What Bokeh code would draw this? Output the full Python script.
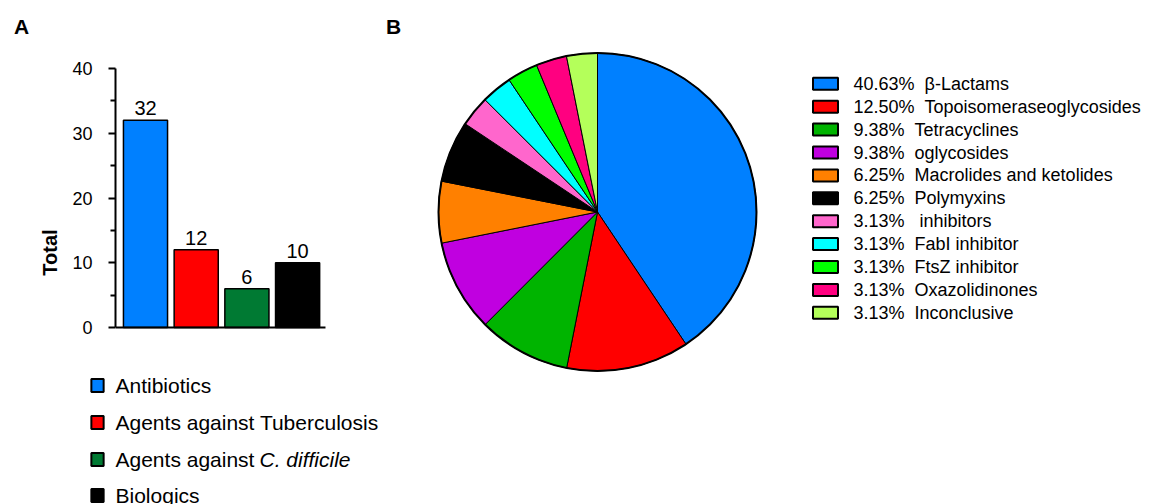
from bokeh.plotting import figure
from bokeh.models import Range1d, LinearAxis, FixedTicker
from bokeh.layouts import row
from bokeh.embed import file_html
from bokeh.resources import INLINE
from bokeh.core.properties import value
import numpy as np

# ---------------- data ----------------
bar_categories = ["Antibiotics", "Agents against Tuberculosis", "Agents against C. difficile", "Biologics"]
bar_values = [32, 12, 6, 10]
bar_colors = ["#0080ff", "#ff0000", "#007a33", "#000000"]
y_major_ticks = [0, 10, 20, 30, 40]
y_minor_ticks = [5, 15, 25, 35]

pie_labels = ["β-Lactams", "Topoisomeraseoglycosides", "Tetracyclines", "oglycosides",
              "Macrolides and ketolides", "Polymyxins", " inhibitors", "FabI inhibitor",
              "FtsZ inhibitor", "Oxazolidinones", "Inconclusive"]
pie_percent = [40.63, 12.50, 9.38, 9.38, 6.25, 6.25, 3.13, 3.13, 3.13, 3.13, 3.13]
pie_colors = ["#0080ff", "#ff0000", "#00b400", "#c000e0", "#ff8000", "#000000",
              "#ff66cc", "#00ffff", "#00ff00", "#ff0080", "#b4ff5a"]

FONT = value("Liberation Sans")
H = 504
WA = 384

def base_fig(w, h, xr, yr, **kw):
    p = figure(width=w, height=h, x_range=xr, y_range=yr, output_backend="svg",
               toolbar_location=None, x_axis_type=None, y_axis_type=None,
               min_border=0, outline_line_color=None, **kw)
    p.grid.visible = False
    p.background_fill_color = "white"
    p.border_fill_color = "white"
    return p

# ---------------- panel A (bar chart + legend) ----------------
axis_px = 115          # pixel column of the y axis
zero_py = 327          # pixel row of y = 0
px_per_x = 50.7
px_per_y = 6.475
x_start = 1 - 30 / px_per_x
x_end = x_start + (WA - axis_px) / px_per_x
y_end = zero_py / px_per_y
y_start = -(H - zero_py) / px_per_y

def X(px):
    return x_start + (px - axis_px) / px_per_x

def Y(py):
    return (zero_py - py) / px_per_y

xs = list(range(1, len(bar_values) + 1))

pa = base_fig(WA, H, Range1d(x_start, x_end), Range1d(y_start, y_end),
              min_border_left=axis_px)
yaxis = LinearAxis(bounds=(0, 40))
yaxis.ticker = FixedTicker(ticks=y_major_ticks, minor_ticks=y_minor_ticks)
yaxis.axis_line_width = 2
yaxis.axis_line_color = "black"
yaxis.major_tick_line_width = 2
yaxis.minor_tick_line_width = 2
yaxis.major_tick_line_color = "black"
yaxis.minor_tick_line_color = "black"
yaxis.major_tick_in = 0
yaxis.major_tick_out = 7
yaxis.minor_tick_in = 0
yaxis.minor_tick_out = 5
yaxis.major_label_text_font = "Liberation Sans"
yaxis.major_label_text_font_size = "18px"
yaxis.major_label_text_color = "black"
yaxis.major_label_standoff = 16
yaxis.axis_label = "Total"
yaxis.axis_label_text_font = "Liberation Sans"
yaxis.axis_label_text_font_size = "20px"
yaxis.axis_label_text_font_style = "bold"
yaxis.axis_label_text_color = "black"
yaxis.axis_label_standoff = 8
pa.add_layout(yaxis, "left")

pa.vbar(x=xs, top=bar_values, bottom=0, width=0.87, fill_color=bar_colors,
        line_color="black", line_width=1.5)
pa.segment(x0=[x_start], y0=[0], x1=[xs[-1] + 0.55], y1=[0], line_color="black", line_width=2)
pa.text(x=xs, y=bar_values, text=[str(v) for v in bar_values], text_font=FONT,
        text_font_size="20px", text_align="center", text_baseline="bottom", y_offset=-5)

# panel label
pa.text(x=[X(21)], y=[Y(26)], text=["A"], text_font=FONT, text_font_size="21px",
        text_font_style="bold", text_align="center", text_baseline="middle", level="overlay")

# legend A: swatches drawn as boxed blank texts (so they may sit left of the plot frame)
rows_a = [385, 422, 459, 495]
ly = [Y(r) for r in rows_a]
pa.text(x=[X(97)] * 4, y=ly, text=["\u00a0"] * 4, text_font=FONT, text_font_size="1px",
        text_align="center", text_baseline="middle", padding=6,
        background_fill_color=bar_colors, border_line_color="black", border_line_width=2,
        level="overlay")
plain = ["Antibiotics", "Agents against Tuberculosis", "Agents against", "Biologics"]
pa.text(x=[X(115)] * 4, y=ly, text=plain, text_font=FONT, text_font_size="21px",
        text_baseline="middle", text_align="left", level="overlay")
pa.text(x=[X(115 + 144)], y=[ly[2]], text=["C. difficile"], text_font=FONT,
        text_font_size="21px", text_font_style="italic", text_baseline="middle",
        level="overlay")

# ---------------- panel B ----------------
WB = 1153 - WA
pb = base_fig(WB, H, Range1d(WA, 1153), Range1d(0, H))
pb.text(x=[393], y=[H - 26], text=["B"], text_font=FONT, text_font_size="21px",
        text_font_style="bold", text_align="center", text_baseline="middle")

frac = np.array(pie_percent) / np.sum(pie_percent)
cum = np.concatenate([[0], np.cumsum(frac)]) * 2 * np.pi
starts = np.pi / 2 - cum[1:]
ends = np.pi / 2 - cum[:-1]
cx, cy, r = 597, H - 211.5, 159
pb.wedge(x=cx, y=cy, radius=r, start_angle=starts, end_angle=ends, direction="anticlock",
         fill_color=pie_colors, line_color="black", line_width=1)
pb.circle(x=[cx], y=[cy], radius=r, fill_color=None, line_color="black", line_width=2)

leg_rows = [83.3 + 22.9 * i for i in range(len(pie_labels))]
lyb = [H - v for v in leg_rows]
pb.rect(x=[825] * len(pie_labels), y=lyb, width=25, height=12, fill_color=pie_colors,
        line_color="black", line_width=2)
nb = "\u00a0"
leg_text = [f"{p:.2f}%{nb}{nb}" + n.replace(" ", nb, 1 if n.startswith(" ") else 0)
            for p, n in zip(pie_percent, pie_labels)]
pb.text(x=[853] * len(pie_labels), y=lyb, text=leg_text, text_font=FONT,
        text_font_size="18px", text_baseline="middle", text_align="left")

layout = row(pa, pb, spacing=0)

open("out.html", "w").write(file_html(layout, INLINE))
